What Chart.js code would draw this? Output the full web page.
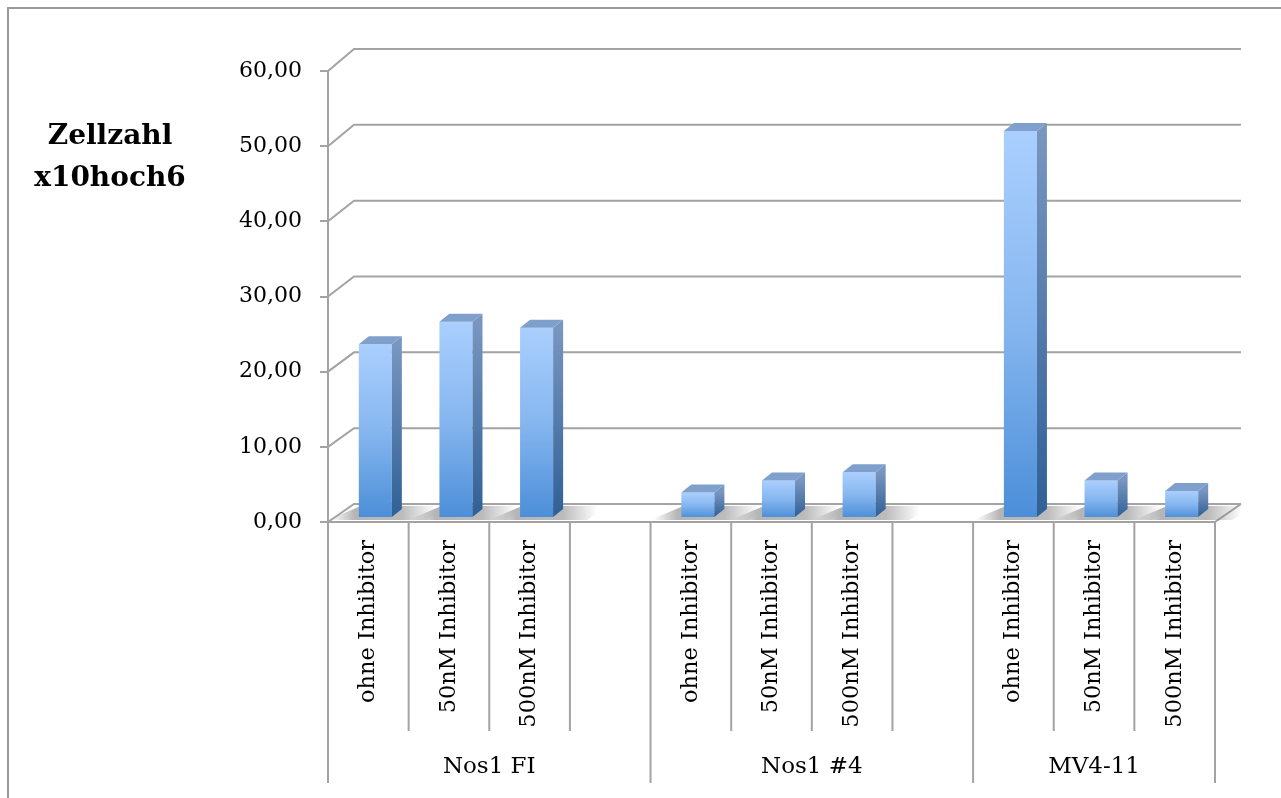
<!DOCTYPE html>
<html lang="de">
<head>
    <meta charset="UTF-8">
    <title>Zellzahl x10hoch6</title>
    <script src="https://cdn.jsdelivr.net/npm/chart.js"></script>
    <style>
        html, body { margin: 0; padding: 0; background: #fff; }
        canvas { display: block; }
    </style>
</head>
<body>
    <canvas id="zellChart" width="1281" height="798"></canvas>

    <script>
        // data
        const categories = [
            'ohne Inhibitor', '50nM Inhibitor', '500nM Inhibitor', '',
            'ohne Inhibitor', '50nM Inhibitor', '500nM Inhibitor', '',
            'ohne Inhibitor', '50nM Inhibitor', '500nM Inhibitor'
        ];
        const groups = ['Nos1 FI', 'Nos1 #4', 'MV4-11'];
        const groupSizes = [4, 4, 3];
        const zellzahl = [23.1, 26.1, 25.3, null, 3.4, 5.0, 6.1, null, 51.5, 5.0, 3.6];
        const yTicks = [0, 10, 20, 30, 40, 50, 60];

        const GRID = '#a3a3a3';
        const SERIF = '"DejaVu Serif", serif';
        const wall = { dx: 26, dyBottom: 18, dyTop: 22 };
        const bar3d = { dx: 10, dy: 8, shiftX: 7, shiftY: -4 };

        function backOffset(py, a) {
            const f = (a.bottom - py) / (a.bottom - a.top);
            return wall.dyBottom + (wall.dyTop - wall.dyBottom) * f;
        }

        const fmt = v => v.toFixed(2).replace('.', ',');

        const chart3d = {
            id: 'chart3d',
            beforeDatasetsDraw(chart) {
                const { ctx, chartArea: a, scales: { y } } = chart;
                ctx.save();
                ctx.strokeStyle = GRID;
                ctx.lineWidth = 2;
                // back wall gridlines with the slanted side edge
                yTicks.forEach(v => {
                    const py = y.getPixelForValue(v);
                    const off = backOffset(py, a);
                    ctx.beginPath();
                    ctx.moveTo(a.left, py);
                    ctx.lineTo(a.left + wall.dx, py - off);
                    ctx.lineTo(a.right + wall.dx, py - off);
                    ctx.stroke();
                });
                // floor right edge
                const py0 = y.getPixelForValue(0);
                const back0 = py0 - backOffset(py0, a);
                ctx.beginPath();
                ctx.moveTo(a.right, py0);
                ctx.lineTo(a.right + wall.dx, back0);
                ctx.stroke();

                // shadows on the floor, a slanted band under each bar
                const meta = chart.getDatasetMeta(0);
                const front = py0 - 2, back = back0 + 2;
                const slant = wall.dx * (py0 - front) / (py0 - back0);
                meta.data.forEach((bar, i) => {
                    if (zellzahl[i] == null) return;
                    const { x, width } = bar.getProps(['x', 'width'], true);
                    const l = x - width / 2 + bar3d.shiftX;
                    const r = x + width / 2 + bar3d.shiftX + bar3d.dx;
                    const x0 = l - 28, x1 = r + 34;
                    const g = ctx.createLinearGradient(x0, 0, x1, 0);
                    const span = x1 - x0;
                    g.addColorStop(0, 'rgba(120,120,120,0)');
                    g.addColorStop((l - 4 - x0) / span, 'rgba(120,120,120,0.55)');
                    g.addColorStop((r - x0) / span, 'rgba(120,120,120,0.5)');
                    g.addColorStop(1, 'rgba(120,120,120,0)');
                    ctx.fillStyle = g;
                    ctx.beginPath();
                    ctx.moveTo(x0 + slant - 6, front);
                    ctx.lineTo(x1 - 10, front);
                    ctx.lineTo(x1 + wall.dx - 14, back);
                    ctx.lineTo(x0 + wall.dx + 4, back);
                    ctx.closePath();
                    ctx.fill();
                });
                ctx.restore();

                ctx.save();
                ctx.translate(bar3d.shiftX, bar3d.shiftY);
            },
            afterDatasetsDraw(chart) {
                const { ctx, chartArea: a, scales: { x, y } } = chart;
                const meta = chart.getDatasetMeta(0);
                meta.data.forEach((bar, i) => {
                    if (zellzahl[i] == null) return;
                    const p = bar.getProps(['x', 'y', 'base', 'width'], true);
                    const l = p.x - p.width / 2, r = p.x + p.width / 2;
                    // side face
                    const gs = ctx.createLinearGradient(0, p.y, 0, p.base);
                    gs.addColorStop(0, '#7896c0');
                    gs.addColorStop(1, '#2f6096');
                    ctx.fillStyle = gs;
                    ctx.beginPath();
                    ctx.moveTo(r, p.y);
                    ctx.lineTo(r + bar3d.dx, p.y - bar3d.dy);
                    ctx.lineTo(r + bar3d.dx, p.base - bar3d.dy);
                    ctx.lineTo(r, p.base);
                    ctx.closePath();
                    ctx.fill();
                    // top face
                    ctx.fillStyle = '#7f9fcd';
                    ctx.beginPath();
                    ctx.moveTo(l, p.y);
                    ctx.lineTo(l + bar3d.dx, p.y - bar3d.dy);
                    ctx.lineTo(r + bar3d.dx, p.y - bar3d.dy);
                    ctx.lineTo(r, p.y);
                    ctx.closePath();
                    ctx.fill();
                });
                ctx.restore();

                ctx.save();
                const py0 = y.getPixelForValue(0);
                const slot = (a.right - a.left) / categories.length;
                ctx.strokeStyle = GRID;
                ctx.lineWidth = 2;
                // front edge of floor / x axis
                ctx.beginPath();
                ctx.moveTo(a.left, py0);
                ctx.lineTo(a.right, py0);
                ctx.stroke();

                // category and group dividers
                const groupEdges = [0];
                groupSizes.forEach(n => groupEdges.push(groupEdges[groupEdges.length - 1] + n));
                for (let i = 0; i <= categories.length; i++) {
                    const px = x.getPixelForValue(Math.min(i, categories.length - 1)) +
                        (i === categories.length ? slot / 2 : -slot / 2);
                    const isGroup = groupEdges.includes(i);
                    ctx.beginPath();
                    ctx.moveTo(px, py0);
                    ctx.lineTo(px, py0 + (isGroup ? 261 : 209));
                    ctx.stroke();
                }

                // group labels
                ctx.fillStyle = '#000';
                ctx.font = '23px ' + SERIF;
                ctx.textAlign = 'center';
                ctx.textBaseline = 'middle';
                groups.forEach((g, gi) => {
                    const first = groupEdges[gi];
                    const last = groupEdges[gi + 1] - 1;
                    const cx = (x.getPixelForValue(first) + x.getPixelForValue(last)) / 2;
                    ctx.fillText(g, cx, py0 + 245);
                });

                // y axis title
                ctx.font = 'bold 28px ' + SERIF;
                ctx.textBaseline = 'alphabetic';
                ctx.fillText('Zellzahl', 110, 144);
                ctx.fillText('x10hoch6', 110, 186);

                // outer frame (top and left edges)
                ctx.strokeStyle = '#9a9a9a';
                ctx.beginPath();
                ctx.moveTo(chart.width, 8);
                ctx.lineTo(8, 8);
                ctx.lineTo(8, chart.height);
                ctx.stroke();
                ctx.restore();
            }
        };

        const ctx = document.getElementById('zellChart').getContext('2d');
        new Chart(ctx, {
            type: 'bar',
            data: {
                labels: categories,
                datasets: [{
                    label: 'Zellzahl',
                    data: zellzahl,
                    barPercentage: 0.41,
                    categoryPercentage: 1.0,
                    borderWidth: 0,
                    backgroundColor(c) {
                        const ch = c.chart;
                        if (!ch.chartArea || c.raw == null) return '#6fa8ea';
                        const top = ch.scales.y.getPixelForValue(c.raw);
                        const bot = ch.scales.y.getPixelForValue(0);
                        const g = ch.ctx.createLinearGradient(0, top, 0, bot);
                        g.addColorStop(0, '#aacffe');
                        g.addColorStop(0.5, '#86b6ef');
                        g.addColorStop(1, '#4b8ed8');
                        return g;
                    }
                }]
            },
            options: {
                responsive: false,
                animation: false,
                layout: { padding: { left: 0, top: 71, right: 66, bottom: 0 } },
                plugins: {
                    legend: { display: false },
                    tooltip: { enabled: false }
                },
                scales: {
                    x: {
                        grid: { display: false, drawTicks: false },
                        border: { display: false },
                        ticks: {
                            autoSkip: false,
                            minRotation: 90,
                            maxRotation: 90,
                            padding: 18,
                            color: '#000',
                            font: { family: SERIF, size: 22.5 }
                        },
                        afterFit(s) { s.height = 276; }
                    },
                    y: {
                        min: 0,
                        max: 60,
                        grid: {
                            drawOnChartArea: false,
                            tickLength: 8,
                            color: GRID,
                            lineWidth: 2
                        },
                        border: { color: GRID, width: 2 },
                        ticks: {
                            stepSize: 10,
                            padding: 18,
                            color: '#000',
                            font: { family: SERIF, size: 22 },
                            callback: v => fmt(v)
                        },
                        afterFit(s) { s.width = 328; }
                    }
                }
            },
            plugins: [chart3d]
        });
    </script>
</body>
</html>
